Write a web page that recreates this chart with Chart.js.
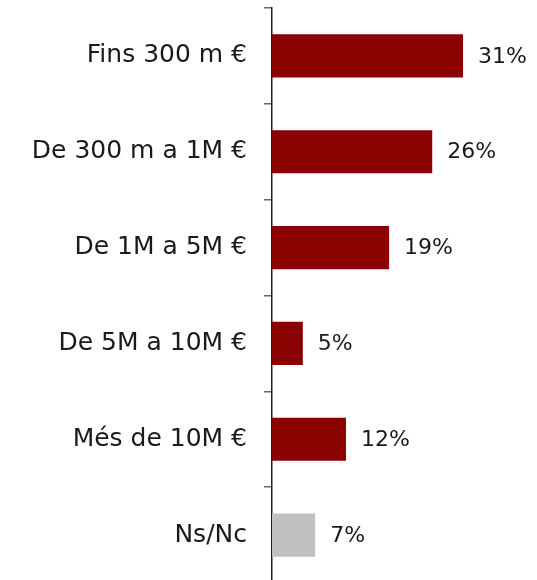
<!DOCTYPE html>
<html>
<head>
<meta charset="utf-8">
<script src="https://cdn.jsdelivr.net/npm/chart.js@4"></script>
<style>
  html, body { margin: 0; padding: 0; background: #fff; overflow: hidden; }
  #wrap { width: 537px; height: 583px; }
</style>
</head>
<body>
<div id="wrap"><canvas id="myChart"></canvas></div>
<script>
// data
const categories = ['Fins 300 m €', 'De 300 m a 1M €', 'De 1M a 5M €', 'De 5M a 10M €', 'Més de 10M €', 'Ns/Nc'];
const values = [31, 26, 19, 5, 12, 7];
const barColors = ['#8b0000', '#8b0000', '#8b0000', '#8b0000', '#8b0000', '#c0c0c0'];

const fontFamily = "'Century Gothic', 'DejaVu Sans', sans-serif";

// value labels to the right of each bar
const valueLabels = {
    id: 'valueLabels',
    afterDatasetsDraw(chart) {
        const ctx = chart.ctx;
        const meta = chart.getDatasetMeta(0);
        ctx.save();
        ctx.font = '22px ' + fontFamily;
        ctx.fillStyle = '#1a1a1a';
        ctx.textAlign = 'left';
        ctx.textBaseline = 'middle';
        meta.data.forEach(function(bar, i) {
            ctx.fillText(values[i] + '%', bar.x + 15, bar.y + 1);
        });
        ctx.restore();
    }
};

const data = {
    labels: categories,
    datasets: [{
        data: values,
        backgroundColor: barColors,
        borderWidth: 0,
        categoryPercentage: 1,
        barPercentage: 0.45
    }]
};

const config = {
    type: 'bar',
    data,
    options: {
        indexAxis: 'y',
        responsive: true,
        maintainAspectRatio: false,
        animation: false,
        layout: { padding: { top: 8, right: 0, bottom: 0, left: 0 } },
        plugins: {
            legend: { display: false },
            tooltip: { enabled: false }
        },
        scales: {
            x: {
                display: false,
                min: 0,
                max: 43
            },
            y: {
                offset: true,
                afterFit(scale) {
                    scale.width = 272;
                    scale.paddingTop = 0;
                    scale.paddingBottom = 0;
                },
                grid: {
                    offset: true,
                    drawOnChartArea: false,
                    drawTicks: true,
                    tickLength: 8,
                    color: '#666',
                    lineWidth: 1.5
                },
                border: { display: true, color: '#222', width: 1.5 },
                ticks: {
                    color: '#1a1a1a',
                    padding: 17,
                    font: { family: fontFamily, size: 25 }
                }
            }
        }
    },
    plugins: [valueLabels]
};

const myChart = new Chart(document.getElementById('myChart'), config);
</script>
</body>
</html>
